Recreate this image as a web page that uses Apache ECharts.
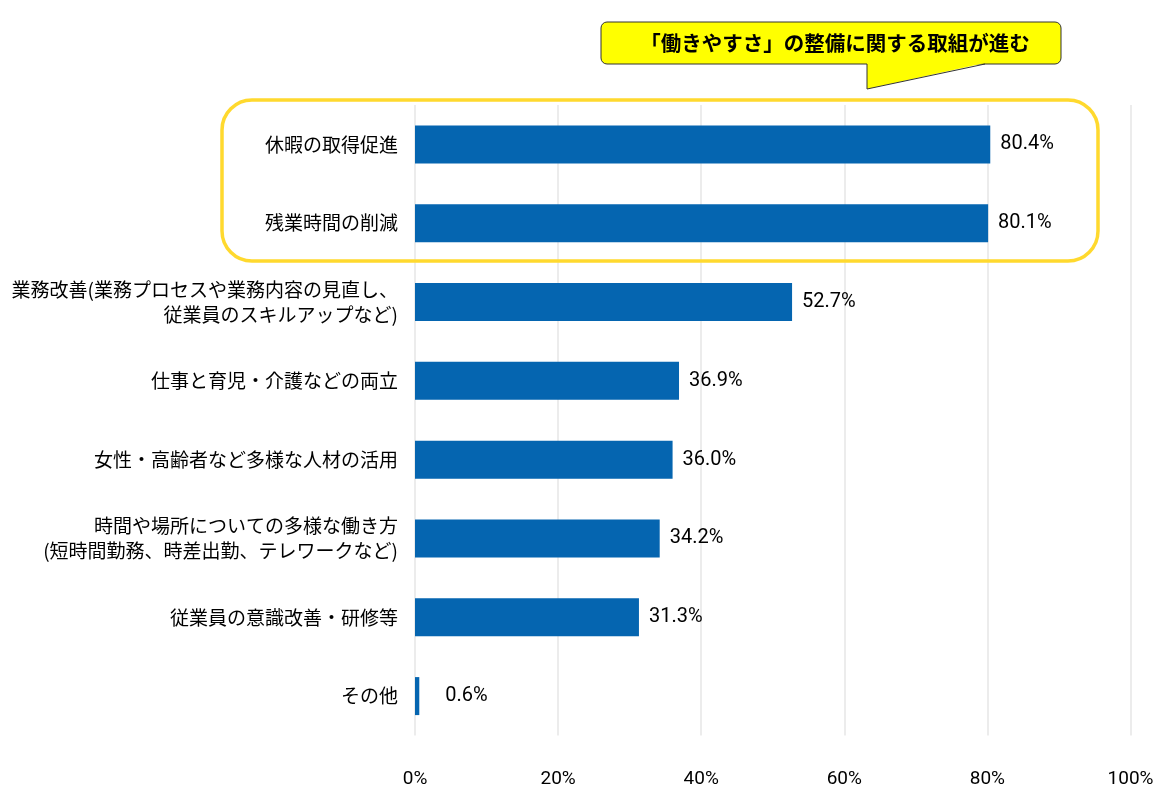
<!DOCTYPE html>
<html>
<head>
<meta charset="utf-8">
<script src="https://cdn.jsdelivr.net/npm/echarts@6/dist/echarts.min.js"></script>
<style>
html,body{margin:0;padding:0;background:#fff;}
#chart{width:1158px;height:803px;}
</style>
</head>
<body>
<div id="chart"></div>
<script>
const categories = [
  '休暇の取得促進',
  '残業時間の削減',
  '業務改善(業務プロセスや業務内容の見直し、\n従業員のスキルアップなど)',
  '仕事と育児・介護などの両立',
  '女性・高齢者など多様な人材の活用',
  '時間や場所についての多様な働き方\n(短時間勤務、時差出勤、テレワークなど)',
  '従業員の意識改善・研修等',
  'その他'
];
const values = [80.4, 80.1, 52.7, 36.9, 36.0, 34.2, 31.3, 0.6];
const xTicks = [0, 20, 40, 60, 80, 100];
const calloutText = '「働きやすさ」の整備に関する取組が進む';

const jp = '"Noto Sans CJK JP", "Noto Sans", sans-serif';
const num = 'Roboto, "Liberation Sans", sans-serif';

const chart = echarts.init(document.getElementById('chart'), null, {renderer: 'canvas'});
chart.setOption({
  animation: false,
  backgroundColor: '#ffffff',
  grid: {left: 415, right: 27.5, top: 105, bottom: 67.5, containLabel: false},
  xAxis: {
    type: 'value', min: xTicks[0], max: xTicks[xTicks.length - 1], interval: 20,
    axisLine: {show: false}, axisTick: {show: false},
    splitLine: {show: true, lineStyle: {color: '#e6e6e6', width: 1.5}},
    axisLabel: {formatter: '{value}%', color: '#000', fontFamily: num, fontSize: 19, margin: 34}
  },
  yAxis: {
    type: 'category', data: categories, inverse: true,
    axisLine: {show: false}, axisTick: {show: false},
    axisLabel: {color: '#000', fontFamily: jp, fontSize: 19, lineHeight: 25, margin: 17, align: 'right'}
  },
  series: [{
    type: 'bar',
    barWidth: 38,
    itemStyle: {color: '#0565b0'},
    data: values.map(v => ({
      value: v,
      label: {distance: v < 1 ? 26 : 10}
    })),
    label: {
      show: true, position: 'right', distance: 10,
      formatter: p => p.value.toFixed(1) + '%',
      color: '#000', fontFamily: num, fontSize: 20
    }
  }],
  graphic: [
    {
      type: 'rect', z: 100,
      shape: {x: 222, y: 100, width: 876, height: 161, r: 30},
      style: {fill: 'none', stroke: '#ffd92e', lineWidth: 3.5}
    },
    {
      type: 'rect', z: 100,
      shape: {x: 601, y: 22, width: 460, height: 42, r: 6},
      style: {fill: '#ffff00', stroke: '#333333', lineWidth: 1}
    },
    {
      type: 'polygon', z: 101,
      shape: {points: [[867, 63], [985, 63], [867, 89]]},
      style: {fill: '#ffff00', stroke: 'none'}
    },
    {
      type: 'polyline', z: 102,
      shape: {points: [[985, 64], [867, 89], [867, 64]]},
      style: {fill: 'none', stroke: '#333333', lineWidth: 1}
    },
    {
      type: 'text', z: 103,
      x: 835, y: 43,
      style: {text: calloutText, fill: '#000', font: 'bold 20.5px "Noto Sans CJK JP", sans-serif', align: 'center', verticalAlign: 'middle'}
    }
  ]
});
</script>
</body>
</html>
